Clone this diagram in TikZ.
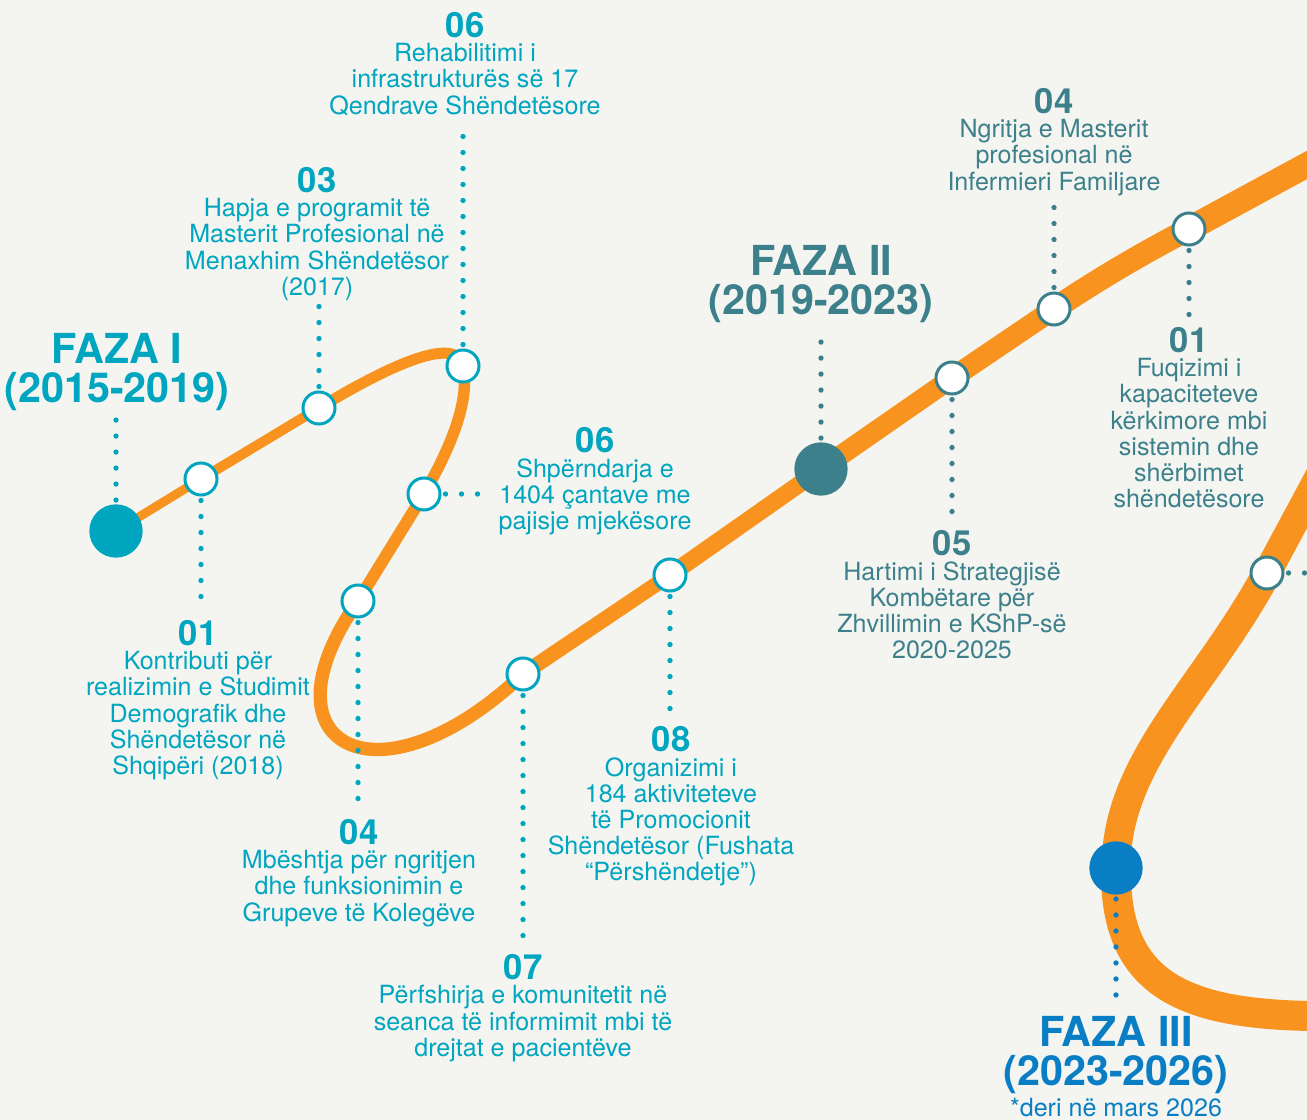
\documentclass[tikz,border=0pt]{standalone}
\usepackage{fontspec}
\setmainfont{TeX Gyre Heros}
\usetikzlibrary{positioning}
\definecolor{tlpaper}{HTML}{F4F5F0}
\definecolor{tlorange}{HTML}{F7931E}
\definecolor{tlcyan}{HTML}{00A5C0}
\definecolor{tlteal}{HTML}{3C808C}
\definecolor{tlblue}{HTML}{0A7EC5}
\pgfdeclarelayer{road}
\pgfsetlayers{road,main}

\begin{document}
\begin{tikzpicture}[x=0.75pt,y=-0.75pt,
    road/.style={draw=tlorange,line cap=round},
    stop/.style={circle,draw=#1,fill=white,line width=2.25pt,minimum size=24pt,inner sep=0pt},
    phase/.style={circle,fill=#1,minimum size=40pt,inner sep=0pt},
    dots/.style={draw=#1,line width=4pt,line cap=round,dash pattern=on 0pt off 12pt,shorten <=3pt},
    num/.style={text=#1,font=\fontsize{26}{26}\selectfont\bfseries,inner sep=0pt},
    desc/.style={text=#1,font=\fontsize{18.8}{19.6}\selectfont,align=center,inner sep=0pt},
    title/.style={text=#1,font=\fontsize{31}{29}\selectfont\bfseries,align=center,inner sep=0pt}]
  \useasboundingbox (0,0) rectangle (1307,1120);

  % stops along the road
  \node[phase=tlcyan] (f1) at (116,531) {};
  \node[stop=tlcyan] (c1) at (201,479) {};
  \node[stop=tlcyan] (c2) at (319,408) {};
  \node[stop=tlcyan] (c3) at (463,366) {};
  \node[stop=tlcyan] (c4) at (424,494) {};
  \node[stop=tlcyan] (c5) at (358,601) {};
  \node[stop=tlcyan] (c6) at (523,674) {};
  \node[stop=tlcyan] (c7) at (670,575) {};
  \node[phase=tlteal] (f2) at (821,469) {};
  \node[stop=tlteal] (c8) at (952,378) {};
  \node[stop=tlteal] (c9) at (1054,309) {};
  \node[stop=tlteal] (c10) at (1189,229) {};
  \node[stop=tlteal] (c11) at (1267,573) {};
  \node[phase=tlblue] (f3) at (1116,868) {};
  \coordinate (exitA) at (1340,147);
  \coordinate (entryB) at (1325,465);
  \coordinate (exitB) at (1340,1016);
  \coordinate (edge) at (1320,573);

  % phase titles
  \node[title=tlcyan] (t1) at (117,372) {FAZA I\\(2015-2019)};
  \node[title=tlteal] (t2) at (821,284) {FAZA II\\(2019-2023)};
  \node[title=tlblue] (t3) at (1116,1055) {FAZA III\\(2023-2026)};
  \node[desc=tlblue,below=3pt of t3] (s3) {*deri në mars 2026};

  % phase I
  \node[num=tlcyan] (n06) at (465,25) {06};
  \node[desc=tlcyan,below=4pt of n06] (d06) {Rehabilitimi i\\infrastrukturës së 17\\Qendrave Shëndetësore};
  \node[num=tlcyan] (n03) at (317,180) {03};
  \node[desc=tlcyan,below=4pt of n03] (d03) {Hapja e programit të\\Masterit Profesional në\\Menaxhim Shëndetësor\\(2017)};
  \node[num=tlcyan] (n01) at (198,633) {01};
  \node[desc=tlcyan,below=4pt of n01] (d01) {Kontributi për\\realizimin e Studimit\\Demografik dhe\\Shëndetësor në\\Shqipëri (2018)};
  \node[num=tlcyan] (n06b) at (595,440) {06};
  \node[desc=tlcyan,below=4pt of n06b] (d06b) {Shpërndarja e\\1404 çantave me\\pajisje mjekësore};
  \node[num=tlcyan] (n04) at (359,832) {04};
  \node[desc=tlcyan,below=4pt of n04] (d04) {Mbështja për ngritjen\\dhe funksionimin e\\Grupeve të Kolegëve};
  \node[num=tlcyan] (n07) at (523,967) {07};
  \node[desc=tlcyan,below=4pt of n07] (d07) {Përfshirja e komunitetit në\\seanca të informimit mbi të\\drejtat e pacientëve};
  \node[num=tlcyan] (n08) at (671,739) {08};
  \node[desc=tlcyan,below=4pt of n08] (d08) {Organizimi i\\184 aktiviteteve\\të Promocionit\\Shëndetësor (Fushata\\“Përshëndetje”)};

  % phase II
  \node[num=tlteal] (n05) at (952,543) {05};
  \node[desc=tlteal,below=4pt of n05] (d05) {Hartimi i Strategjisë\\Kombëtare për\\Zhvillimin e KShP-së\\2020-2025};
  \node[num=tlteal] (n04b) at (1054,101) {04};
  \node[desc=tlteal,below=4pt of n04b] (d04b) {Ngritja e Masterit\\profesional në\\Infermieri Familjare};
  \node[num=tlteal] (n01b) at (1189,340) {01};
  \node[desc=tlteal,below=4pt of n01b] (d01b) {Fuqizimi i\\kapaciteteve\\kërkimore mbi\\sistemin dhe\\shërbimet\\shëndetësore};

  % dotted leaders
  \draw[dots=tlcyan,shorten >=4pt] (f1) -- (f1 |- t1.south);
  \draw[dots=tlcyan,shorten >=7pt] (c1) -- (c1 |- n01.north);
  \draw[dots=tlcyan,shorten >=4pt] (c2) -- (c2 |- d03.south);
  \draw[dots=tlcyan,shorten >=4pt] (c3) -- (c3 |- d06.south);
  \draw[dots=tlcyan,shorten >=7pt] (c4) -- (c4 -| d06b.west);
  \draw[dots=tlcyan,shorten >=7pt] (c5) -- (c5 |- n04.north);
  \draw[dots=tlcyan,shorten >=7pt] (c6) -- (c6 |- n07.north);
  \draw[dots=tlcyan,shorten >=7pt] (c7) -- (c7 |- n08.north);
  \draw[dots=tlteal,shorten >=4pt] (f2) -- (f2 |- t2.south);
  \draw[dots=tlteal,shorten >=7pt] (c8) -- (c8 |- n05.north);
  \draw[dots=tlteal,shorten >=4pt] (c9) -- (c9 |- d04b.south);
  \draw[dots=tlteal,shorten >=7pt] (c10) -- (c10 |- n01b.north);
  \draw[dots=tlteal] (c11) -- (edge);
  \draw[dots=tlblue,shorten >=8pt] (f3) -- (f3 |- t3.north);

  % the road, getting wider as it goes
  \begin{pgfonlayer}{road}
    \fill[tlpaper] (0,0) rectangle (1307,1120);
    \clip (0,0) rectangle (1307,1120);
    \foreach \a/\b/\w in {f1/c1/6.75,c1/c2/7.5,c4/c5/9,c6/c7/11.25,c7/f2/12.75,
                          f2/c8/15,c8/c9/15.75,c10/exitA/18.75,entryB/c11/21}
      \draw[road,line width=\w pt] (\a.center) -- (\b.center);
    \draw[road,line width=8.25pt] (c2.center) .. controls (395,362) and (457,336) .. (c3.center);
    \draw[road,line width=8.6pt] (c3.center) .. controls (470,400) and (452,445) .. (c4.center);
    \draw[road,line width=10pt] (c5.center) .. controls (255,748) and (380,810) .. (c6.center);
    \draw[road,line width=17.25pt] (c9.center) .. controls (1100,278) and (1145,252) .. (c10.center);
    \draw[road,line width=21.75pt] (c11.center) .. controls (1205,688) and (1116,760) .. (f3.center);
    \draw[road,line width=22.5pt] (f3.center) .. controls (1114,990) and (1190,1018) .. (exitB);
  \end{pgfonlayer}
\end{tikzpicture}
\end{document}
